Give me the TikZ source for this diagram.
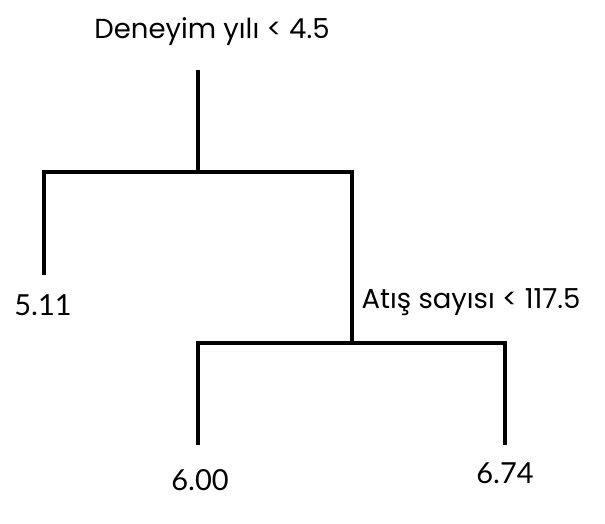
\documentclass[tikz,border=0pt]{standalone}
\usepackage{fontspec}
\setmainfont{Poppins}
\newfontfamily\numfont{Lato}
\begin{document}
\begin{tikzpicture}[x=1pt,y=-1pt,
  branch/.style={line width=3.6pt, line join=miter, line cap=butt, black},
  cond/.style={inner sep=0pt, font=\fontsize{27.5}{32}\selectfont},
  leaf/.style={inner sep=0pt, font=\numfont\fontsize{29}{33}\selectfont}]
\useasboundingbox (0,0) rectangle (605,523);
% labels
\node[cond] (root) at (212,32) {Deneyim yılı < 4.5};
\node[cond] (split) at (471,302) {Atış sayısı < 117.5};
\node[leaf] (l511) at (43,305) {5.11};
\node[leaf] (l600) at (200,480) {6.00};
\node[leaf] (l674) at (505,473) {6.74};
% junction coordinates
\coordinate (rootend) at (198,70);
\coordinate (h1mid) at (198,172);
\coordinate (h1L) at (44,172);
\coordinate (h1R) at (352,172);
\coordinate (e511) at (44,275);
\coordinate (h2mid) at (352,343);
\coordinate (h2L) at (198,343);
\coordinate (h2R) at (505,343);
\coordinate (e600) at (198,445);
\coordinate (e674) at (505,445);
% branches
\draw[branch] (rootend) -- (h1mid);
\draw[branch] (e511) -- (h1L) -- (h1R) -- (h2mid);
\draw[branch] (e600) -- (h2L) -- (h2R) -- (e674);
\end{tikzpicture}
\end{document}
